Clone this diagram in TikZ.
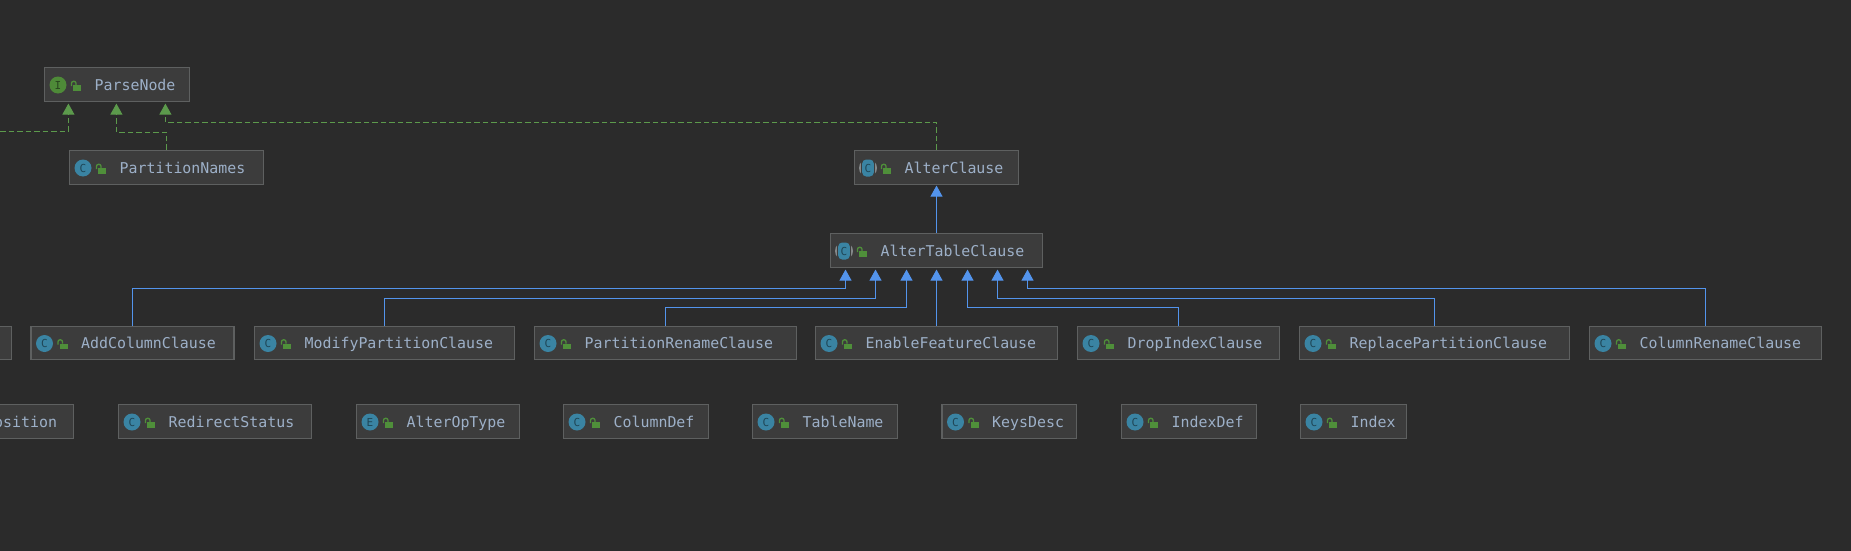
\documentclass[tikz,border=0pt]{standalone}
\usepackage{fontspec}
\setmonofont{DejaVu Sans Mono}
\usetikzlibrary{arrows.meta,calc}
\definecolor{bgc}{HTML}{2B2B2B}
\definecolor{boxc}{HTML}{3C3C3C}
\definecolor{edgec}{HTML}{5E6060}
\definecolor{txtc}{HTML}{9DB0C8}
\definecolor{bluec}{HTML}{5394EC}
\definecolor{greenc}{HTML}{5C9A4C}
\definecolor{tealc}{HTML}{3A84A3}
\definecolor{tealk}{HTML}{1F4656}
\definecolor{grnic}{HTML}{4E8A38}
\definecolor{grnik}{HTML}{28451E}
\definecolor{lockc}{HTML}{4F8F3A}
\definecolor{absc}{HTML}{85898B}
\tikzset{
  x=1pt,y=-1pt,
  umlbox/.style={draw=edgec,fill=boxc,line width=1.2pt,inner sep=0pt,rectangle},
  lbl/.style={text=txtc,font=\ttfamily\fontsize{14.9}{15}\selectfont,inner sep=0pt,anchor=base west},
  ltr/.style={inner sep=0pt,font=\ttfamily\fontsize{11}{11}\selectfont},
  extarrow/.style={draw=bluec,line width=1pt,-{Triangle[length=11pt,width=12pt,fill=bluec]}},
  implarrow/.style={draw=greenc,line width=1pt,dash pattern=on 5.5pt off 3pt,-{Triangle[length=11pt,width=12pt,fill=greenc]}},
  iconC/.pic={\fill[tealc] (0,0) circle (8.5);\node[ltr,text=tealk] (l) at (0,0) {C};},
  iconE/.pic={\fill[tealc] (0,0) circle (8.5);\node[ltr,text=tealk] (l) at (0,0) {E};},
  iconI/.pic={\fill[grnic] (0,0) circle (8.5);\node[ltr,text=grnik] (l) at (0,0) {I};},
  iconA/.pic={\fill[absc] (0,0) circle (9);\fill[boxc] (-6.8,-10) rectangle (6.8,10);
    \fill[tealc,rounded corners=4pt] (-5.8,-8.5) rectangle (5.8,8.5);\node[ltr,text=tealk] (l) at (0,0) {C};},
}
% name, x1, x2, y1, y2, icon kind, text
\newcommand{\umlnode}[7]{%
  \pgfmathsetmacro\bxw{#3-#2-1}%
  \pgfmathsetmacro\bxh{#5-#4-1}%
  \pgfmathsetmacro\bxc{(#2+#3)/2}%
  \pgfmathsetmacro\bym{(#4+#5)/2}%
  \node[umlbox,minimum width=\bxw pt,minimum height=\bxh pt] (#1) at (\bxc,\bym) {};
  \pic (#1-k) at ({#2+14},{\bym+0.5}) {icon#6};
  \fill[lockc] ({#2+29},{\bym+0.5}) rectangle ({#2+37},{\bym+6});
  \draw[lockc,line width=1.3pt,rounded corners=2pt] ({#2+27.5},{\bym+1.5}) -- ({#2+27.5},{\bym-3.2}) -- ({#2+32},{\bym-3.2}) -- ({#2+32},{\bym+0.5});
  \node[lbl] (#1-t) at ({#2+50.5},{\bym+5.5}) {#7};
}
\begin{document}
\begin{tikzpicture}
\useasboundingbox (0,0) rectangle (1851,551);
\fill[bgc] (0,0) rectangle (1851,551);
% top
\umlnode{parse}{44}{190}{67}{102}{I}{ParseNode}
\umlnode{pnames}{69}{264}{150}{185}{C}{PartitionNames}
\umlnode{alter}{854}{1019}{150}{185}{A}{AlterClause}
\umlnode{atc}{830}{1043}{233}{268}{A}{AlterTableClause}
% row 1
\node[umlbox,minimum width=71pt,minimum height=33pt] (cut) at (-24,343) {};
\umlnode{addc}{30.5}{234.5}{326}{360}{C}{AddColumnClause}
\umlnode{modp}{254}{515}{326}{360}{C}{ModifyPartitionClause}
\umlnode{prn}{534}{797}{326}{360}{C}{PartitionRenameClause}
\umlnode{enf}{815}{1058}{326}{360}{C}{EnableFeatureClause}
\umlnode{dropi}{1077}{1280}{326}{360}{C}{DropIndexClause}
\umlnode{repl}{1299}{1570}{326}{360}{C}{ReplacePartitionClause}
\umlnode{crn}{1589}{1822}{326}{360}{C}{ColumnRenameClause}
% row 2
\node[umlbox,minimum width=133pt,minimum height=34pt] (posn) at (7,421.5) {};
\node[lbl] (posn-t) at (-6,427) {osition};
\umlnode{redir}{118}{312}{404}{439}{C}{RedirectStatus}
\umlnode{aot}{356}{520}{404}{439}{E}{AlterOpType}
\umlnode{cdef}{563}{709}{404}{439}{C}{ColumnDef}
\umlnode{tname}{752}{898}{404}{439}{C}{TableName}
\umlnode{keys}{941.5}{1077}{404}{439}{C}{KeysDesc}
\umlnode{idef}{1121}{1257}{404}{439}{C}{IndexDef}
\umlnode{idx}{1300}{1407}{404}{439}{C}{Index}
% extends
\draw[extarrow] (alter.south |- atc.north) -- ($(alter.south)+(0,0.5)$);
\draw[extarrow] (addc.north) |- ($(atc.south)+(-91,20)$) -- ($(atc.south)+(-91,1.5)$);
\draw[extarrow] (modp.north) |- ($(atc.south)+(-61,30)$) -- ($(atc.south)+(-61,1.5)$);
\draw[extarrow] (prn.north) |- ($(atc.south)+(-30,39)$) -- ($(atc.south)+(-30,1.5)$);
\draw[extarrow] (enf.north) -- ($(atc.south)+(0,1.5)$);
\draw[extarrow] (dropi.north) |- ($(atc.south)+(31,39)$) -- ($(atc.south)+(31,1.5)$);
\draw[extarrow] (repl.north) |- ($(atc.south)+(61,30)$) -- ($(atc.south)+(61,1.5)$);
\draw[extarrow] (crn.north) |- ($(atc.south)+(91,20)$) -- ($(atc.south)+(91,1.5)$);
% implements
\coordinate (offl) at (0,131.5);
\draw[implarrow] (offl) -| ($(parse.south west)+(24.5,1.5)$);
\draw[implarrow] (pnames.north) |- ($(parse.south west)+(72.5,30)$) -- ($(parse.south west)+(72.5,1.5)$);
\draw[implarrow] (alter.north) |- ($(parse.south west)+(121.5,20)$) -- ($(parse.south west)+(121.5,1.5)$);
\end{tikzpicture}
\end{document}
